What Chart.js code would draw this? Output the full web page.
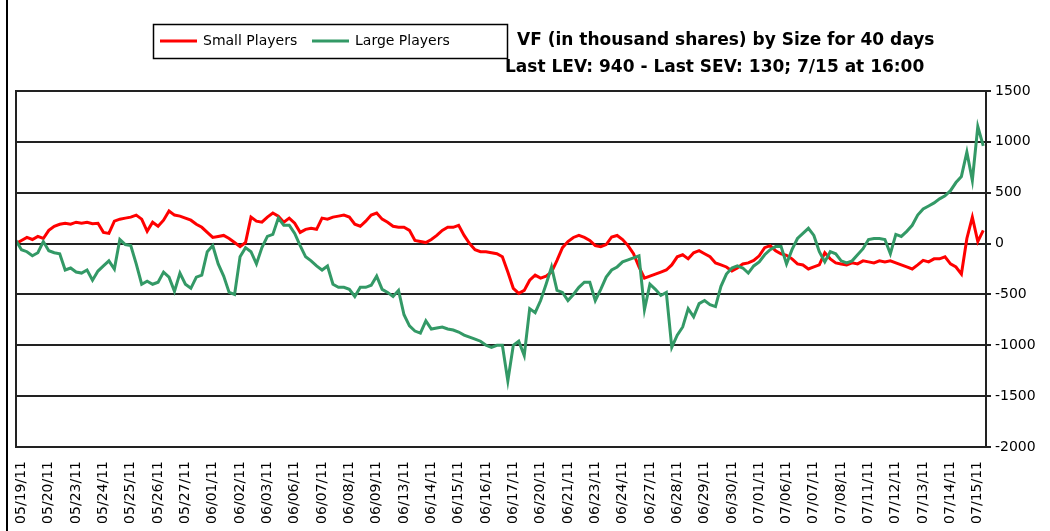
<!DOCTYPE html>
<html>
<head>
<meta charset="utf-8">
<script src="https://cdn.jsdelivr.net/npm/chart.js@4.4.0/dist/chart.umd.min.js"></script>
<style>
  html, body { margin:0; padding:0; background:#fff; }
</style>
</head>
<body>
<canvas id="myCanvas" width="1050" height="531"></canvas>
<script>
// one label every 5 samples
var dayLabels = ["05/19/11","05/20/11","05/23/11","05/24/11","05/25/11","05/26/11","05/27/11",
  "06/01/11","06/02/11","06/03/11","06/06/11","06/07/11","06/08/11","06/09/11","06/13/11",
  "06/14/11","06/15/11","06/16/11","06/17/11","06/20/11","06/21/11","06/23/11","06/24/11",
  "06/27/11","06/28/11","06/29/11","06/30/11","07/01/11","07/06/11","07/07/11","07/08/11",
  "07/11/11","07/12/11","07/13/11","07/14/11","07/15/11"];

var smallPlayers = [0,30,60,40,70,50,130,170,190,200,190,210,200,210,195,200,110,100,220,240,
  250,260,280,240,120,210,170,230,
  320,280,270,250,230,190,160,110,60,70,80,50,10,-30,10,260,220,210,260,300,270,210,250,200,
  110,140,150,140,250,240,260,270,280,260,190,170,220,280,300,240,210,170,160,160,130,30,20,10,
  40,80,130,160,160,180,80,0,-60,-80,-80,-90,-100,-130,-280,-440,-490,-460,-360,-310,-340,-320,-280,
  -165,-40,20,60,80,60,30,-20,-30,-10,65,80,40,-20,-100,-230,-340,-320,-300,-280,-260,-210,-130,
  -110,-150,-90,-70,-100,-130,-190,-210,-230,-270,-240,-200,-190,-165,-120,-40,-20,-70,-100,-115,
  -150,-200,-210,-250,-230,-210,-90,-150,-190,-200,-210,-190,-200,-170,-180,-190,-170,-180,-170,
  -190,-210,-230,-250,-210,-165,-180,-150,
  -150,-130,-200,-230,-300,50,260,20,130];

var largePlayers = [30,-60,-80,-120,-90,20,-70,-90,-100,-260,-240,-280,-290,-260,-360,-270,-220,
  -170,-250,40,-10,-20,-200,-400,-370,-400,-380,-280,
  -330,-470,-290,-400,-440,-330,-310,-80,-20,-200,-320,-480,-500,-130,-40,-80,-200,-40,70,90,
  250,180,180,100,-20,-130,-170,-220,-260,-220,-400,-430,-430,-450,-520,-430,-430,-410,-320,-450,
  -480,-520,-460,-700,-810,-860,-880,-760,-840,-830,-820,-840,-850,-870,-900,-920,-940,-960,-1000,
  -1020,-1000,-1000,-1350,-1000,-960,-1100,-640,-680,-560,-400,-230,
  -460,-480,-560,-500,-430,-380,-380,-560,-450,-330,-260,-230,-180,-160,-140,-120,-650,-400,-450,
  -510,-480,-1020,-900,-820,-640,-720,-590,-560,-600,-620,-420,-300,-240,-220,-240,-290,-220,-180,
  -110,-60,-30,-30,-200,-60,50,100,150,80,-80,-180,-80,-100,-170,-190,-170,-110,-50,40,50,50,40,
  -100,90,70,120,180,280,340,370,400,
  440,470,520,600,660,900,620,1150,960];

var seriesNames = ["Small Players", "Large Players"];
var titleLines = ["VF (in thousand shares) by Size for 40 days",
  "Last LEV: 940 - Last SEV: 130; 7/15 at 16:00"];

var SAMPLE_STEP = 0.2;
var FIRST_POS = -0.2;

function toPoints(arr){
  return arr.map(function(v, j){ return {x: FIRST_POS + j*SAMPLE_STEP, y: v}; });
}

var decor = {
  id: 'decor',
  afterDraw: function(chart){
    var ctx = chart.ctx, a = chart.chartArea;
    ctx.save();
    // outer frame edge
    ctx.strokeStyle = '#000';
    ctx.lineWidth = 2;
    ctx.beginPath(); ctx.moveTo(7, 0); ctx.lineTo(7, 531); ctx.stroke();
    // plot border
    ctx.lineWidth = 2;
    ctx.strokeStyle = '#222';
    ctx.strokeRect(a.left, a.top, a.right - a.left, a.bottom - a.top);
    // title
    ctx.fillStyle = '#000';
    ctx.font = 'bold 17px "DejaVu Sans"';
    ctx.textBaseline = 'middle';
    ctx.textAlign = 'left';
    ctx.fillText(titleLines[0], 517, 41);
    ctx.fillText(titleLines[1], 505, 68);
    // legend box
    ctx.fillStyle = '#fff';
    ctx.fillRect(153, 24, 354, 34);
    ctx.lineWidth = 1.5;
    ctx.strokeStyle = '#000';
    ctx.strokeRect(153.5, 24.5, 354, 34);
    ctx.font = '14px "DejaVu Sans"';
    ctx.fillStyle = '#000';
    var ds = chart.data.datasets;
    var xs = [160, 312];
    for (var k = 0; k < 2; k++) {
      ctx.strokeStyle = ds[k].borderColor;
      ctx.lineWidth = 3;
      ctx.beginPath(); ctx.moveTo(xs[k], 41); ctx.lineTo(xs[k] + 37, 41); ctx.stroke();
      ctx.fillText(ds[k].label, xs[k] + 43, 41);
    }
    ctx.restore();
  }
};

var ctx = document.getElementById('myCanvas').getContext('2d');
Chart.defaults.font.family = '"DejaVu Sans"';
Chart.defaults.color = '#000';
var chart = new Chart(ctx, {
  type: 'line',
  data: {
    datasets: [{
      label: seriesNames[0],
      data: toPoints(smallPlayers),
      borderColor: '#FF0000',
      borderWidth: 3,
      pointRadius: 0,
      tension: 0,
      order: 1
    }, {
      label: seriesNames[1],
      data: toPoints(largePlayers),
      borderColor: '#339966',
      borderWidth: 3,
      pointRadius: 0,
      tension: 0,
      order: 0
    }]
  },
  options: {
    responsive: false,
    animation: false,
    layout: { padding: { top: 91, left: 16, right: 0, bottom: 0 } },
    plugins: { legend: { display: false }, tooltip: { enabled: false } },
    scales: {
      x: {
        type: 'linear',
        min: -0.2,
        max: 35.3,
        afterBuildTicks: function(s){ s.ticks = dayLabels.map(function(d, k){ return {value: k}; }); },
        afterFit: function(s){ s.height = 84; },
        grid: { display: false, drawTicks: false },
        border: { display: false },
        ticks: {
          autoSkip: false, maxRotation: 90, minRotation: 90, padding: 14,
          font: { size: 14 }, color: '#000',
          callback: function(v, i){ return dayLabels[i]; }
        }
      },
      y: {
        position: 'right',
        min: -2000,
        max: 1500,
        afterFit: function(s){ s.width = 64; },
        ticks: {
          stepSize: 500, padding: 4, font: { size: 14 }, color: '#000',
          callback: function(v){ return String(v); }
        },
        grid: { color: '#222', lineWidth: 2, tickLength: 5 },
        border: { display: true, color: '#222', width: 2 }
      }
    }
  },
  plugins: [decor]
});
</script>
</body>
</html>
